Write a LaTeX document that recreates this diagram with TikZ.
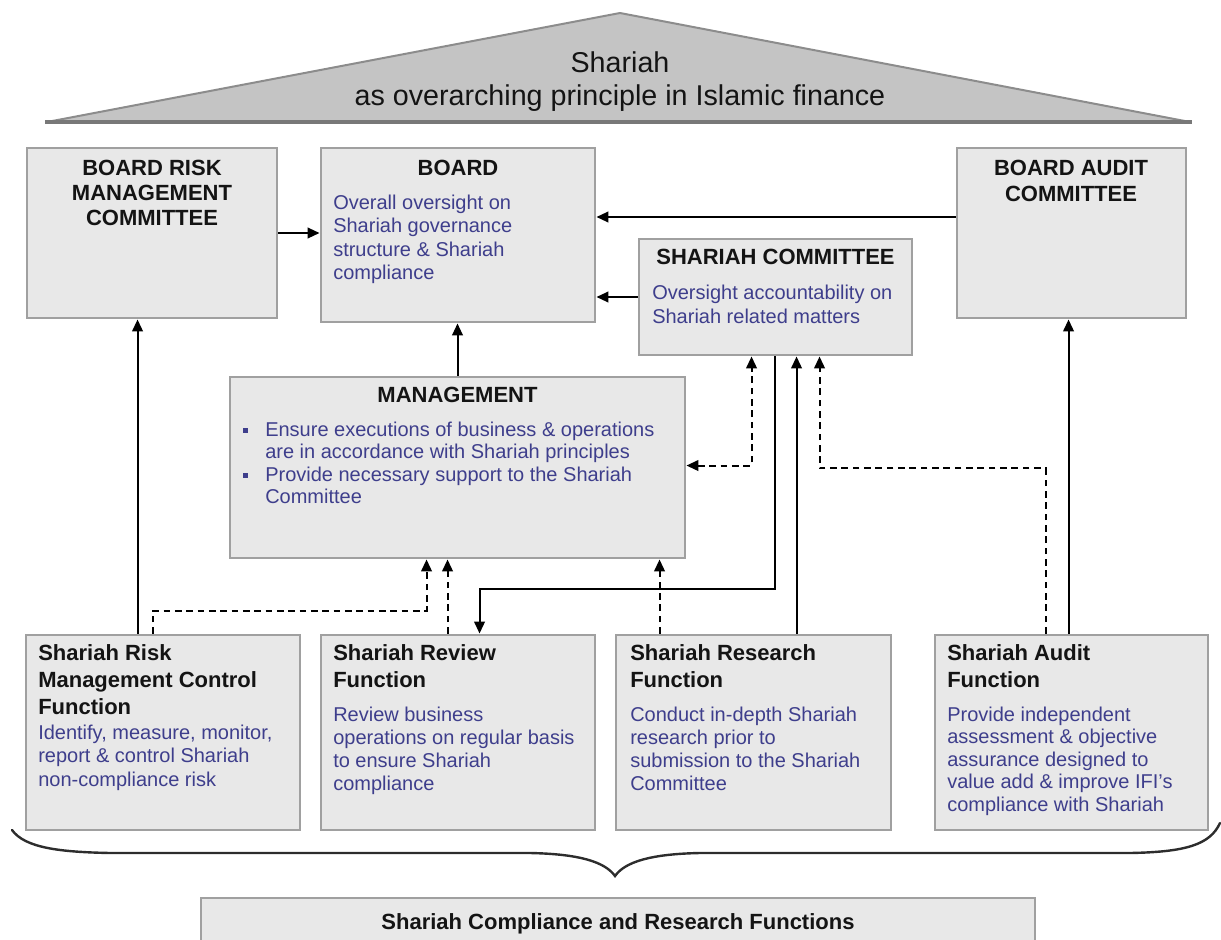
\documentclass[tikz,border=0pt]{standalone}
\usepackage{fontspec}
\setmainfont{Liberation Sans}
\usetikzlibrary{arrows.meta,calc,fit}

\definecolor{boxfill}{RGB}{232,232,232}
\definecolor{boxline}{RGB}{160,160,160}
\definecolor{rooffill}{RGB}{196,196,196}
\definecolor{roofline}{RGB}{140,140,140}
\definecolor{roofbase}{RGB}{120,120,120}
\definecolor{bodyblue}{RGB}{62,62,140}
\definecolor{ink}{RGB}{20,20,20}
\definecolor{bracecol}{RGB}{45,45,45}

\begin{document}
\begin{tikzpicture}[x=0.75pt,y=-0.75pt,
  box/.style={draw=boxline, fill=boxfill, line width=2.2pt, inner sep=0pt},
  hdr/.style={inner sep=0pt, text=ink, align=center, font=\fontsize{16.5}{#1}\selectfont\bfseries},
  fnhdr/.style={inner sep=0pt, text=ink, align=left, font=\fontsize{16.5}{#1}\selectfont\bfseries},
  body/.style={inner sep=0pt, text=bodyblue, align=left, font=\fontsize{15}{#1}\selectfont},
  arr/.style={line width=1.5pt, -{Triangle[length=9pt,width=8pt]}},
  dsh/.style={arr, dash pattern=on 5pt off 3.5pt},
  dshboth/.style={line width=1.5pt, dash pattern=on 5pt off 3.5pt,
    {Triangle[length=9pt,width=8pt]}-{Triangle[length=9pt,width=8pt]}},
]
\useasboundingbox (0,0) rectangle (1221,939);

% roof
\fill[rooffill] (47,122) -- (620,13) -- (1190,122) -- cycle;
\draw[roofline, line width=1.5pt, line join=round] (47,122) -- (620,13) -- (1190,122);
\draw[roofbase, line width=3pt] (45,122) -- (1192,122);
\node[inner sep=0pt, align=center, text=ink, font=\fontsize{21.5}{24.75}\selectfont, anchor=north]
  (roofT) at (620,51) {Shariah\\as overarching principle in Islamic finance};

% top row boxes
\node[box, fit={(27,148) (277,318)}] (brmc) {};
\node[box, fit={(321,148) (595,322)}] (board) {};
\node[box, fit={(957,148) (1186,318)}] (bac) {};
\node[box, fit={(639,239) (912,355)}] (sc) {};
\node[box, fit={(230,377) (685,558)}] (mgmt) {};

\node[hdr=18.75, anchor=north] (brmcT) at (152,160) {BOARD RISK\\MANAGEMENT\\COMMITTEE};
\node[hdr=18.75, anchor=north] (boardT) at (458,160) {BOARD};
\node[body=17.6, anchor=north west] (boardB) at (333,194.5)
  {Overall oversight on\\Shariah governance\\structure \& Shariah\\compliance};
\node[hdr=19.5, anchor=north] (bacT) at (1071,160) {BOARD AUDIT\\COMMITTEE};
\node[hdr=18.75, anchor=north] (scT) at (775.5,249) {SHARIAH COMMITTEE};
\node[body=18, anchor=north west] (scB) at (652,284.5)
  {Oversight accountability on\\Shariah related matters};
\node[hdr=18.75, anchor=north] (mgmtT) at (457.5,387) {MANAGEMENT};
\node[body=16.9, anchor=north west] (mgmtB) at (265,421.5)
  {Ensure executions of business \& operations\\are in accordance with Shariah principles\\Provide necessary support to the Shariah\\Committee};
\fill[bodyblue] (242.5,427.5) rectangle (247.5,432.5);
\fill[bodyblue] (242.5,472.5) rectangle (247.5,477.5);

% function boxes
\node[box, fit={(26,635) (300,830)}] (risk) {};
\node[box, fit={(321,635) (595,830)}] (review) {};
\node[box, fit={(616,635) (891,830)}] (research) {};
\node[box, fit={(935,635) (1208,830)}] (audit) {};

\node[fnhdr=20.25, anchor=north west] (riskT) at (38,644)
  {Shariah Risk\\Management Control\\Function};
\node[body=17.6, anchor=north west] (riskB) at (38,724.5)
  {Identify, measure, monitor,\\report \& control Shariah\\non-compliance risk};
\node[fnhdr=20.25, anchor=north west] (reviewT) at (333,644) {Shariah Review\\Function};
\node[body=17.25, anchor=north west] (reviewB) at (333,706.5)
  {Review business\\operations on regular basis\\to ensure Shariah\\compliance};
\node[fnhdr=20.25, anchor=north west] (researchT) at (630,644) {Shariah Research\\Function};
\node[body=17.25, anchor=north west] (researchB) at (630,706.5)
  {Conduct in-depth Shariah\\research prior to\\submission to the Shariah\\Committee};
\node[fnhdr=20.25, anchor=north west] (auditT) at (947,644) {Shariah Audit\\Function};
\node[body=16.9, anchor=north west] (auditB) at (947,706.5)
  {Provide independent\\assessment \& objective\\assurance designed to\\value add \& improve IFI's\\compliance with Shariah};

% brace gathering the functions
\draw[bracecol, line width=1.8pt, line cap=round]
  (12,830) .. controls (25,848) and (60,852) .. (110,853) -- (530,853)
  .. controls (580,854) and (605,862) .. (615,876)
  .. controls (625,862) and (650,854) .. (700,853) -- (1130,853)
  .. controls (1185,852) and (1210,845) .. (1220,823);

\node[box, fit={(201,898) (1035,965)}] (summary) {};
\node[hdr=18.75, anchor=north] (summaryT) at (618,913) {Shariah Compliance and Research Functions};

% reporting lines between the top boxes
\draw[arr] (brmc.east) -- (brmc.east -| board.west);
\coordinate (bacout) at ($(bac.west)+(0,-16)$);
\draw[arr] (bacout) -- (bacout -| board.east);
\draw[arr] (sc.west) -- (sc.west -| board.east);
\draw[arr] (mgmt.north) -- (mgmt.north |- board.south);

% lines from the functions
\coordinate (riskA) at ($(risk.north west)+(113,0)$);
\coordinate (riskB) at ($(risk.north west)+(128,0)$);
\coordinate (mgmtA) at ($(mgmt.south west)+(198,0)$);
\coordinate (revA) at ($(review.north west)+(128,0)$);
\coordinate (revB) at ($(review.north west)+(160,0)$);
\coordinate (resA) at ($(research.north west)+(45,0)$);
\coordinate (resB) at ($(research.north west)+(182,0)$);
\coordinate (audA) at ($(audit.north west)+(112,0)$);
\coordinate (audB) at ($(audit.north west)+(135,0)$);
\coordinate (scA) at ($(sc.south west)+(114,0)$);
\coordinate (scB) at ($(sc.south west)+(137,0)$);
\coordinate (scC) at ($(sc.south west)+(182,0)$);
\coordinate (mgmtB) at ($(mgmt.north east)+(0,90)$);

\draw[arr] (riskA) -- (riskA |- brmc.south);
\draw[dsh] (riskB) -- ++(0,-23) -| (mgmtA);
\draw[dsh] (revA) -- (revA |- mgmt.south);
\draw[dsh] (resA) -- (resA |- mgmt.south);
\draw[dshboth] (mgmtB) -| (scA);
\draw[arr] (scB) |- ($(revB)+(0,-45)$) -- (revB);
\draw[arr] (resB) -- (resB |- sc.south);
\draw[dsh] (audA) |- ($(scC)+(0,112)$) -- (scC);
\draw[arr] (audB) -- (audB |- bac.south);
\end{tikzpicture}
\end{document}
